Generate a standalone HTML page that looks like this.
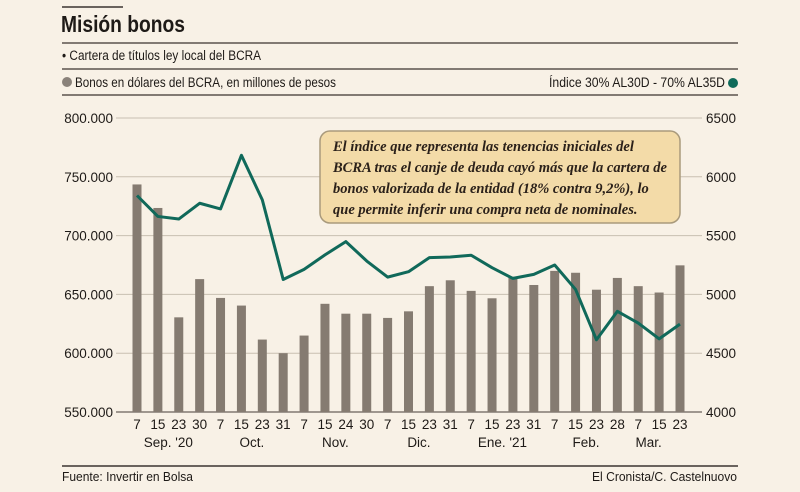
<!DOCTYPE html>
<html><head><meta charset="utf-8">
<style>
html,body{margin:0;padding:0;background:#f8f1e6;}
body{width:800px;height:492px;overflow:hidden;position:relative;font-family:"Liberation Sans",sans-serif;color:#1e1a17;}
svg{position:absolute;left:0;top:0;}
</style></head>
<body>
<svg id="chart" width="800" height="492">
  <line x1="62" y1="7" x2="123" y2="7" stroke="#3a3430" stroke-width="1.5"/>
  <text x="61" y="32" font-size="23" font-weight="bold" fill="#1e1a17" textLength="124" lengthAdjust="spacingAndGlyphs">Misión bonos</text>
  <line x1="62" y1="43" x2="738" y2="43" stroke="#5a534d" stroke-width="1.5"/>
  <text x="62" y="60" font-size="13.5" fill="#1e1a17" textLength="199" lengthAdjust="spacingAndGlyphs">• Cartera de títulos ley local del BCRA</text>
  <line x1="62" y1="69" x2="738" y2="69" stroke="#5a534d" stroke-width="1.5"/>
  <circle cx="67" cy="82" r="5" fill="#8a827a"/>
  <text x="75" y="87" font-size="13.5" fill="#1e1a17" textLength="261" lengthAdjust="spacingAndGlyphs">Bonos en dólares del BCRA, en millones de pesos</text>
  <text x="549" y="87" font-size="13.5" fill="#1e1a17" textLength="176" lengthAdjust="spacingAndGlyphs">Índice 30% AL30D - 70% AL35D</text>
  <circle cx="733" cy="83" r="5" fill="#0f6b5a"/>
  <line x1="62" y1="95" x2="738" y2="95" stroke="#5a534d" stroke-width="1.5"/>
  <g id="grid"></g><g id="bars"></g><g id="line"></g><g id="xlab"></g>
  <g>
    <rect x="320" y="131" width="360" height="92" rx="10" fill="#f3dba8" stroke="#a99a7c" stroke-width="1.5"/>
    <text font-family="Liberation Serif,serif" font-style="italic" font-weight="bold" font-size="14.5" fill="#2b211a">
      <tspan x="333" y="151">El índice que representa las tenencias iniciales del</tspan>
      <tspan x="333" y="172">BCRA tras el canje de deuda cayó más que la cartera de</tspan>
      <tspan x="333" y="193">bonos valorizada de la entidad (18% contra 9,2%), lo</tspan>
      <tspan x="333" y="214">que permite inferir una compra neta de nominales.</tspan>
    </text>
  </g>
  <line x1="62" y1="466" x2="738" y2="466" stroke="#3a3430" stroke-width="1.5"/>
  <text x="62" y="481" font-size="13" fill="#1e1a17" textLength="131" lengthAdjust="spacingAndGlyphs">Fuente: Invertir en Bolsa</text>
  <text x="592" y="481" font-size="13" fill="#1e1a17" textLength="145" lengthAdjust="spacingAndGlyphs">El Cronista/C. Castelnuovo</text>
</svg>
<script>
const days = ["7","15","23","30","7","15","23","31","7","15","24","30","7","15","23","31","7","15","23","31","7","15","23","28","7","15","23"];
const months = [["Sep. '20",1.5],["Oct.",5.5],["Nov.",9.5],["Dic.",13.5],["Ene. '21",17.5],["Feb.",21.5],["Mar.",24.5]];
const bonos = [743500,723500,630500,663000,647000,640500,611600,600000,615000,642000,633600,633600,630000,635600,657000,662000,653000,646700,665000,658000,670000,668400,654000,664000,657000,651600,674700];
const indice = [5841,5663,5641,5775,5727,6183,5804,5127,5213,5336,5449,5284,5147,5193,5313,5318,5333,5227,5136,5170,5250,5042,4614,4856,4756,4622,4747];
const leftTicks = [550000,600000,650000,700000,750000,800000];
const rightTicks = [4000,4500,5000,5500,6000,6500];
const NS="http://www.w3.org/2000/svg";
const Y0=412,Y1=118;
const yL=v=>Y0-(v-550000)/250000*(Y0-Y1);
const yR=v=>Y0-(v-4000)/2500*(Y0-Y1);
const xI=i=>137+i*(680-137)/26;
function mk(tag,attrs,parent,txt){const e=document.createElementNS(NS,tag);for(const k in attrs)e.setAttribute(k,attrs[k]);if(txt!=null)e.textContent=txt;parent.appendChild(e);return e;}
const fmt=v=>String(v).replace(/\B(?=(\d{3})+(?!\d))/g,".");
const grid=document.getElementById('grid');
leftTicks.forEach((t,i)=>{
  const y=yL(t);
  const l=mk('line',{x1:116,x2:702,y1:y,y2:y,stroke:i==0?'#6a625b':'#c9bfb1','stroke-width':i==0?1.3:1},grid);
  
  
  const a=mk('text',{x:113,y:y+5,'font-size':13.5,'text-anchor':'end',fill:'#1e1a17'},grid,fmt(t));
  
  
});
rightTicks.forEach(t=>{
  const b=mk('text',{x:706,y:yR(t)+5,'font-size':13.5,fill:'#1e1a17'},grid,String(t));
  
  
});
const bars=document.getElementById('bars');
bonos.forEach((v,i)=>{
  const r=mk('rect',{x:xI(i)-4.5,y:yL(v),width:9,height:Y0-yL(v),fill:'#857b71'},bars);
  
  
});
const pts=indice.map((v,i)=>xI(i)+','+yR(v)).join(' ');
const pl=mk('polyline',{points:pts,fill:'none',stroke:'#10695a','stroke-width':3,'stroke-linejoin':'round'},document.getElementById('line'));


const xl=document.getElementById('xlab');
days.forEach((d,i)=>{
  const t=mk('text',{x:xI(i),y:429,'font-size':13.5,'text-anchor':'middle',fill:'#1e1a17'},xl,d);
  
  
});
months.forEach(([m,p])=>{
  const t=mk('text',{x:xI(p),y:447,'font-size':13.5,'text-anchor':'middle',fill:'#1e1a17'},xl,m);
  
  
});
</script>
</body></html>
